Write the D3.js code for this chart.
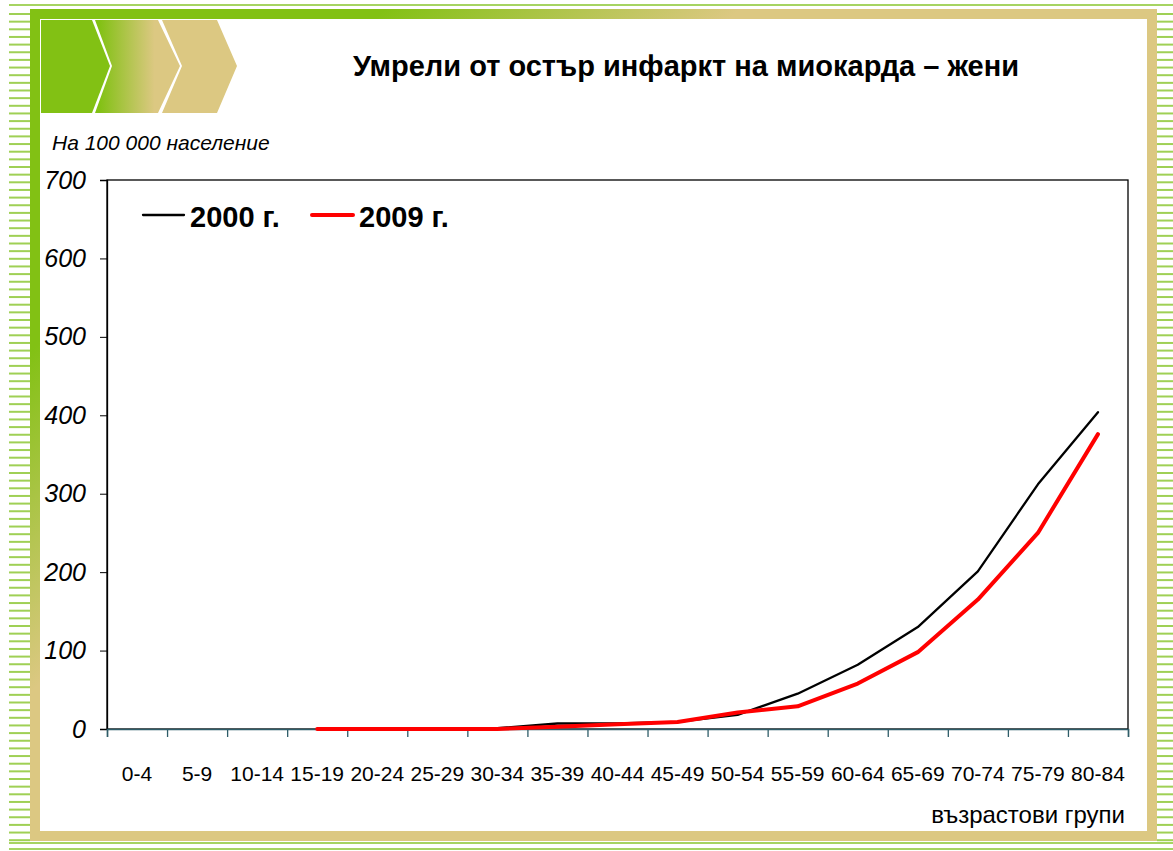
<!DOCTYPE html>
<html>
<head>
<meta charset="utf-8">
<script src="https://cdn.jsdelivr.net/npm/d3@7"></script>
<style>
  body { margin: 0; background: #fff; }
  text { font-family: "Liberation Sans", Arial, sans-serif; }
</style>
</head>
<body>
<div class="chart"></div>
<script>
// data (per 100 000 population)
var ageGroups = ["0-4", "5-9", "10-14", "15-19", "20-24", "25-29", "30-34", "35-39", "40-44",
  "45-49", "50-54", "55-59", "60-64", "65-69", "70-74", "75-79", "80-84"];
var values2000 = [null, null, null, 0, 0, 0, 1, 7, 7, 9, 18, 45, 82, 130, 201, 312, 404];
var values2009 = [null, null, null, 0, 0, 0, 0, 3, 6, 9, 21, 29, 58, 98, 165, 250, 376];
var yTicks = [0, 100, 200, 300, 400, 500, 600, 700];

var svgWidth = 1173;
var svgHeight = 851;

var margin = { top: 180, right: 45, bottom: 122, left: 107 };
var width = svgWidth - margin.left - margin.right;
var height = svgHeight - margin.top - margin.bottom;

var green = "#82c114";
var tan = "#dcc882";

var svg = d3.select(".chart")
  .append("svg")
  .attr("width", svgWidth)
  .attr("height", svgHeight);

var defs = svg.append("defs");

// frame fades from green (top-left) into tan
var frameGrad = defs.append("linearGradient")
  .attr("id", "frameGrad")
  .attr("gradientUnits", "userSpaceOnUse")
  .attr("x1", 30).attr("y1", 9)
  .attr("x2", 600).attr("y2", 600);
frameGrad.append("stop").attr("offset", 0.3).attr("stop-color", green);
frameGrad.append("stop").attr("offset", 0.6).attr("stop-color", tan);

var chevGrad = defs.append("linearGradient")
  .attr("id", "chevGrad")
  .attr("x1", 0).attr("x2", 1).attr("y1", 0).attr("y2", 0);
chevGrad.append("stop").attr("offset", 0.05).attr("stop-color", green);
chevGrad.append("stop").attr("offset", 0.7).attr("stop-color", tan);

// striped side bands
var stripeYs = d3.range(13, 842, 7.65);
svg.append("g").selectAll("rect")
  .data(stripeYs)
  .enter()
  .append("rect")
  .attr("x", 9)
  .attr("y", d => d)
  .attr("width", 21)
  .attr("height", 2)
  .attr("fill", "#9fd055");
svg.append("g").selectAll("rect")
  .data(stripeYs)
  .enter()
  .append("rect")
  .attr("x", 1157)
  .attr("y", d => d)
  .attr("width", 16)
  .attr("height", 2)
  .attr("fill", "#9fd055");

// lines above and below the frame
[5, 843, 849].forEach(function(y) {
  svg.append("rect")
    .attr("x", 9)
    .attr("y", y - 1)
    .attr("width", 1164)
    .attr("height", 2)
    .attr("fill", "#a6d462");
});

// main frame
svg.append("rect")
  .attr("x", 30)
  .attr("y", 9)
  .attr("width", 1127)
  .attr("height", 832)
  .attr("fill", "url(#frameGrad)");
svg.append("rect")
  .attr("x", 40)
  .attr("y", 19)
  .attr("width", 1107)
  .attr("height", 812)
  .attr("fill", "#fff");

// chevrons in the top left corner
var chevrons = [
  { pts: [[41, 20], [92, 20], [110, 66], [92, 113], [41, 113]], fill: green },
  { pts: [[95, 20], [158, 20], [180, 66], [158, 113], [95, 113], [112, 66]], fill: "url(#chevGrad)" },
  { pts: [[162, 20], [217, 20], [237, 66], [217, 113], [162, 113], [182, 66]], fill: tan }
];
svg.append("g").selectAll("polygon")
  .data(chevrons)
  .enter()
  .append("polygon")
  .attr("points", d => d.pts.map(p => p.join(",")).join(" "))
  .attr("fill", d => d.fill);

// title and unit note
svg.append("text")
  .attr("x", 686)
  .attr("y", 76)
  .attr("text-anchor", "middle")
  .attr("font-size", 29)
  .attr("font-weight", "bold")
  .text("Умрели от остър инфаркт на миокарда – жени");

svg.append("text")
  .attr("x", 52)
  .attr("y", 150)
  .attr("font-size", 21)
  .attr("font-style", "italic")
  .text("На 100 000 население");

var chartGroup = svg.append("g")
  .attr("transform", `translate(${margin.left}, ${margin.top})`);

var xBandScale = d3.scaleBand()
  .domain(ageGroups)
  .range([0, width]);

var yLinearScale = d3.scaleLinear()
  .domain([0, 700])
  .range([height, 0]);

// plot box
chartGroup.append("rect")
  .attr("width", width)
  .attr("height", height)
  .attr("fill", "none")
  .attr("stroke", "#000")
  .attr("stroke-width", 1.3);

// y axis
var leftAxis = d3.axisLeft(yLinearScale)
  .tickValues(yTicks)
  .tickSize(7)
  .tickPadding(14);
var yAxis = chartGroup.append("g").call(leftAxis);
yAxis.select(".domain").attr("stroke", "#000").attr("stroke-width", 1.3);
yAxis.selectAll("text")
  .attr("font-size", 25)
  .attr("font-style", "italic")
  .attr("font-family", "Liberation Sans, Arial, sans-serif")
  .attr("fill", "#000");

// x axis: ticks sit between the groups
var xEdges = d3.scaleLinear().domain([0, ageGroups.length]).range([0, width]);
var bottomAxis = d3.axisBottom(xEdges)
  .tickValues(d3.range(0, ageGroups.length + 1))
  .tickSize(8)
  .tickFormat("");
var xAxis = chartGroup.append("g")
  .attr("transform", `translate(0, ${height})`)
  .call(bottomAxis);
xAxis.select(".domain").attr("stroke", "#2e5c68").attr("stroke-width", 1.5);
xAxis.selectAll(".tick line").attr("stroke", "#2e5c68").attr("stroke-width", 1.3);

chartGroup.append("g").selectAll("text")
  .data(ageGroups)
  .enter()
  .append("text")
  .attr("x", d => xBandScale(d) + xBandScale.bandwidth() / 2)
  .attr("y", height + 52)
  .attr("text-anchor", "middle")
  .attr("font-size", 21)
  .text(d => d);

svg.append("text")
  .attr("x", 1125)
  .attr("y", 823)
  .attr("text-anchor", "end")
  .attr("font-size", 24)
  .text("възрастови групи");

// lines
var line = d3.line()
  .defined(d => d.v !== null)
  .x(d => xBandScale(d.g) + xBandScale.bandwidth() / 2)
  .y(d => yLinearScale(d.v));

var series = [
  { name: "2000 г.", values: values2000, color: "#000", width: 2.3 },
  { name: "2009 г.", values: values2009, color: "#ff0000", width: 4 }
];

series.forEach(function(s) {
  chartGroup.append("path")
    .datum(ageGroups.map((g, i) => ({ g: g, v: s.values[i] })))
    .attr("d", line)
    .attr("fill", "none")
    .attr("stroke", s.color)
    .attr("stroke-width", s.width)
    .attr("stroke-linejoin", "round")
    .attr("stroke-linecap", "round");
});

// legend
var legendX = [143, 312];
series.forEach(function(s, i) {
  var lg = svg.append("g").attr("transform", `translate(${legendX[i]}, 215)`);
  lg.append("line")
    .attr("x1", 0)
    .attr("x2", 41)
    .attr("stroke", s.color)
    .attr("stroke-width", s.width)
    .attr("stroke-linecap", "round");
  lg.append("text")
    .attr("x", 47)
    .attr("y", 12)
    .attr("font-size", 29)
    .attr("font-weight", "bold")
    .text(s.name);
});
</script>
</body>
</html>
